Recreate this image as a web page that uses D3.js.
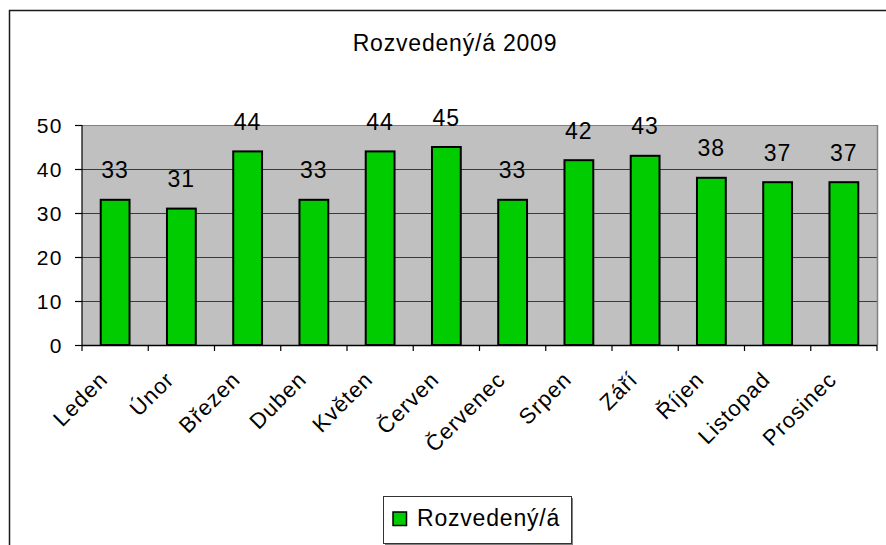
<!DOCTYPE html>
<html><head><meta charset="utf-8">
<script src="https://cdn.jsdelivr.net/npm/d3@7"></script>
<style>
html,body{margin:0;padding:0;background:#fff;}
svg{display:block;font-family:"Liberation Sans",Arial,sans-serif;}
</style></head>
<body>
<svg id="c" width="886" height="545"></svg>
<script>
const categories = ["Leden","Únor","Březen","Duben","Květen","Červen","Červenec","Srpen","Září","Říjen","Listopad","Prosinec"];
const values = [33,31,44,33,44,45,33,42,43,38,37,37];
const yTicks = [0,10,20,30,40,50];
const title = "Rozvedený/á 2009";
const seriesName = "Rozvedený/á";

const svg = d3.select("#c");
const L = 82, R = 877, T = 125, B = 345;

// outer frame
svg.append("rect").attr("x",9.5).attr("y",10.5).attr("width",920).attr("height",600)
  .attr("fill","#fff").attr("stroke","#1a1a1a").attr("stroke-width",1.5);

const x = d3.scaleBand().domain(categories).range([L,R]).padding(0);
const y = d3.scaleLinear().domain([0,50]).range([B,T]);

// plot background
svg.append("rect").attr("x",L).attr("y",T).attr("width",R-L).attr("height",B-T).attr("fill","#c0c0c0");

// gridlines
svg.append("g").selectAll("line").data(yTicks.filter(d=>d>0)).join("line")
  .attr("x1",L).attr("x2",R).attr("y1",d=>Math.round(y(d))+0.5).attr("y2",d=>Math.round(y(d))+0.5)
  .attr("stroke",d=>d===50?"#808080":"#3a3a3a").attr("stroke-width",1);
// right border
svg.append("line").attr("x1",R+0.5).attr("x2",R+0.5).attr("y1",T).attr("y2",B).attr("stroke","#808080").attr("stroke-width",1.5);

// bars
const bw = x.bandwidth()/2.3;
svg.append("g").selectAll("rect").data(values).join("rect")
  .attr("x",(d,i)=>x(categories[i])+(x.bandwidth()-bw)/2)
  .attr("y",d=>y(d))
  .attr("width",bw)
  .attr("height",d=>y(0)-y(d))
  .attr("fill","#00cc00").attr("stroke","#000").attr("stroke-width",2);

// data labels
svg.append("g").selectAll("text").data(values).join("text")
  .attr("x",(d,i)=>x(categories[i])+x.bandwidth()/2)
  .attr("y",d=>y(d)-21.5)
  .attr("text-anchor","middle").attr("font-size",23).attr("letter-spacing","1px")
  .attr("fill","#000").text(d=>d);

// y axis
const yAxis = svg.append("g").attr("transform",`translate(${L},0)`)
  .call(d3.axisLeft(y).tickValues(yTicks).tickSize(7).tickPadding(12).tickFormat(d3.format("d")));
yAxis.select(".domain").attr("stroke","#000").attr("stroke-width",1.2).attr("d",`M0,${T}V${B}`);
yAxis.selectAll(".tick line").attr("stroke","#000").attr("stroke-width",1.2);
yAxis.selectAll(".tick text").attr("font-size",21).attr("font-family","Liberation Sans, Arial, sans-serif")
  .attr("fill","#000").attr("letter-spacing","1.5px").attr("dy","0.36em");

// x axis
const xb = svg.append("g").attr("transform",`translate(0,${B})`);
xb.append("line").attr("x1",L).attr("x2",R).attr("y1",0.5).attr("y2",0.5).attr("stroke","#000").attr("stroke-width",1.5);
const bounds = categories.map(c=>x(c)).concat([R]);
xb.selectAll("line.tk").data(bounds).join("line").attr("class","tk")
  .attr("x1",d=>d).attr("x2",d=>d).attr("y1",0).attr("y2",6).attr("stroke","#000").attr("stroke-width",1.2);
svg.append("g").selectAll("text").data(categories).join("text")
  .attr("transform",c=>`translate(${x(c)+x.bandwidth()/2-6},381) rotate(-45)`)
  .attr("text-anchor","end").attr("font-size",22).attr("letter-spacing","1px").attr("fill","#000")
  .text(c=>c);

// title
svg.append("text").attr("x",455).attr("y",51).attr("text-anchor","middle")
  .attr("font-size",23).attr("letter-spacing","0.8px").attr("fill","#000").text(title);

// legend
const lg = svg.append("g");
lg.append("rect").attr("x",385).attr("y",498).attr("width",188).attr("height",47).attr("fill","#808080");
lg.append("rect").attr("x",383.5).attr("y",496.5).attr("width",188).attr("height",47)
  .attr("fill","#fff").attr("stroke","#333").attr("stroke-width",1);
lg.append("rect").attr("x",393).attr("y",512).attr("width",13.5).attr("height",13.5)
  .attr("fill","#00cc00").attr("stroke","#000").attr("stroke-width",1.5);
lg.append("text").attr("x",417).attr("y",526).attr("font-size",23).attr("letter-spacing","0.8px")
  .attr("fill","#000").text(seriesName);
</script>
</body></html>
